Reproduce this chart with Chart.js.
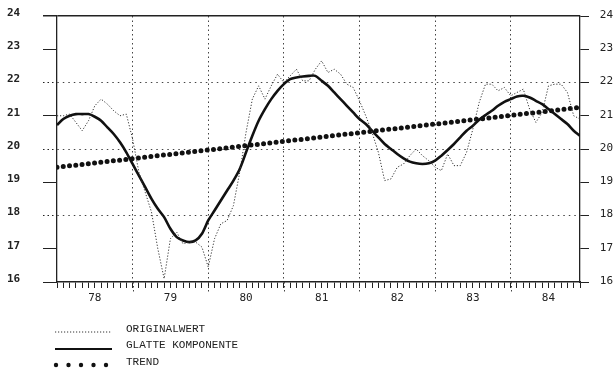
<!DOCTYPE html>
<html><head><meta charset="utf-8">
<script src="https://cdn.jsdelivr.net/npm/chart.js@4"></script>
<style>
html,body{margin:0;padding:0;background:#fff;}
#wrap{position:relative;width:614px;height:371px;overflow:hidden;background:#fff;}
#c{position:absolute;left:0;top:0;}
#samples{position:absolute;left:0;top:0;}
.row{position:absolute;left:126px;white-space:nowrap;line-height:12px;font-family:'Liberation Mono','DejaVu Sans Mono',monospace;font-size:11px;color:#222;}
</style></head><body>
<div id="wrap">
<canvas id="c" width="614" height="371"></canvas>
<svg id="samples" width="614" height="371">
  <line x1="55" y1="332" x2="112" y2="332" stroke="#333" stroke-width="1" stroke-dasharray="1.2 1.8"/>
  <line x1="55" y1="349" x2="112" y2="349" stroke="#111" stroke-width="2.2"/>
  <circle cx="56" cy="365" r="2.2" fill="#111"/><circle cx="68.5" cy="365" r="2.2" fill="#111"/><circle cx="81" cy="365" r="2.2" fill="#111"/><circle cx="93.5" cy="365" r="2.2" fill="#111"/><circle cx="106" cy="365" r="2.2" fill="#111"/>
</svg>
<div class="row" style="top:323px">ORIGINALWERT</div>
<div class="row" style="top:339px">GLATTE KOMPONENTE</div>
<div class="row" style="top:356px">TREND</div>
</div>
<script>
// Monthly values, Jan 1978 (index 0) to Dec 1984 (index 83)
const original = [
  21.0, 21.0, 21.05, 20.8, 20.55, 20.85, 21.3, 21.5, 21.35, 21.15, 21.0, 21.05,
  20.3, 19.3, 18.7, 18.1, 17.0, 16.1, 17.3, 17.5, 17.15, 17.2, 17.2, 17.05,
  16.45, 17.3, 17.75, 17.85, 18.3, 19.3, 20.5, 21.5, 21.9, 21.5, 21.9, 22.25,
  22.0, 22.2, 22.4, 22.05, 22.05, 22.4, 22.65, 22.3, 22.4, 22.25, 21.95, 21.85,
  21.45, 21.0, 20.5, 19.9, 19.05, 19.1, 19.45, 19.55, 19.8, 20.0, 19.8, 19.65,
  19.45, 19.35, 19.85, 19.5, 19.5, 19.9, 20.6, 21.4, 21.95, 21.95, 21.75, 21.85,
  21.6, 21.7, 21.8, 21.2, 20.8, 21.1, 21.9, 21.95, 21.95, 21.7, 21.0, 20.9
];
const smooth = [
  20.72, 20.9, 21.0, 21.05, 21.05, 21.05, 20.97, 20.85, 20.65, 20.45, 20.2, 19.9,
  19.55, 19.2, 18.85, 18.5, 18.2, 17.95, 17.6, 17.35, 17.25, 17.2, 17.25, 17.45,
  17.85, 18.15, 18.45, 18.75, 19.05, 19.4, 19.9, 20.4, 20.85, 21.2, 21.5, 21.75,
  21.95, 22.1, 22.15, 22.18, 22.2, 22.2, 22.05, 21.9, 21.7, 21.5, 21.3, 21.1,
  20.9, 20.75, 20.55, 20.35, 20.15, 20.0, 19.85, 19.72, 19.62, 19.57, 19.55, 19.57,
  19.65, 19.8, 19.97, 20.15, 20.35, 20.55, 20.7, 20.88, 21.02, 21.15, 21.3, 21.42,
  21.5, 21.58, 21.6, 21.55, 21.45, 21.35, 21.2, 21.05, 20.9, 20.75, 20.55, 20.4
];
const trendMonths = [0, 12, 24, 36, 48, 60, 72, 83];
const trendValues = [19.45, 19.71, 19.97, 20.23, 20.49, 20.75, 21.01, 21.25];
const yearLabels = ['78', '79', '80', '81', '82', '83', '84'];

const FONT = "'DejaVu Sans Mono','Liberation Mono',monospace";
const GRID = '#444';
const NONE = 'rgba(0,0,0,0)';
const isYearLine = v => v % 12 === 0 && v > 0 && v < 83;
const isEvenGrid = v => v % 2 === 0 && v > 16 && v < 24;

const yearTickExt = {
  id: 'yearTickExt',
  afterDraw(chart) {
    const xs = chart.scales.x, ctx = chart.ctx, b = chart.chartArea.bottom;
    ctx.save();
    ctx.strokeStyle = GRID; ctx.lineWidth = 1; ctx.setLineDash([1.5, 2.5]);
    for (let m = 12; m < 83; m += 12) {
      const px = Math.round(xs.getPixelForValue(m)) + 0.5;
      ctx.beginPath(); ctx.moveTo(px, b); ctx.lineTo(px, b + 11); ctx.stroke();
    }
    ctx.restore();
  }
};

new Chart(document.getElementById('c'), {
  type: 'line',
  data: {
    datasets: [
      { label: 'ORIGINALWERT', data: original.map((v, i) => ({x: i, y: v})),
        borderColor: '#333', borderWidth: 1, borderDash: [1.2, 1.8], pointRadius: 0, tension: 0 },
      { label: 'GLATTE KOMPONENTE', data: smooth.map((v, i) => ({x: i, y: v})),
        borderColor: '#111', borderWidth: 2.6, pointRadius: 0, tension: 0.3 },
      { label: 'TREND', data: trendValues.map((v, i) => ({x: trendMonths[i], y: v})),
        borderColor: '#111', borderWidth: 5, borderDash: [0, 6.3], borderCapStyle: 'round',
        pointRadius: 0, tension: 0 }
    ]
  },
  options: {
    responsive: false, animation: false, devicePixelRatio: 1,
    layout: { padding: { top: 16, left: 7, right: 1, bottom: 66 } },
    plugins: { legend: { display: false }, tooltip: { enabled: false } },
    scales: {
      x: {
        type: 'linear', min: 0, max: 83,
        afterFit(s) { s.height = 23; },
        ticks: {
          stepSize: 1, autoSkip: false, maxRotation: 0, padding: 4, color: '#222',
          font: { family: FONT, size: 11 },
          callback: v => (v % 12 === 6 ? yearLabels[(v - 6) / 12] : '')
        },
        grid: {
          color: c => (c.tick && isYearLine(c.tick.value) ? GRID : NONE),
          lineWidth: 1, tickLength: 6, tickColor: '#222', drawTicks: true
        },
        border: { display: true, color: '#222', width: 1.5, dash: [1.5, 3] }
      },
      y: {
        position: 'left', min: 16, max: 24,
        afterFit(s) { s.width = 50; },
        ticks: { stepSize: 1, padding: 0, crossAlign: 'far', color: '#222', labelOffset: -3,
          font: { family: FONT, size: 11, weight: 'bold' } },
        grid: {
          color: c => {
            if (!c.tick) return NONE;
            if (c.tick.value === 24) return '#222';
            return isEvenGrid(c.tick.value) ? GRID : NONE;
          },
          lineWidth: c => (c.tick && c.tick.value === 24 ? 1.5 : 1),
          tickLength: 14, tickColor: '#222',
          tickBorderDash: c => (c.tick && isEvenGrid(c.tick.value) ? [1.5, 3] : [])
        },
        border: { display: true, color: '#222', width: 1.3,
          dash: c => (c.tick && c.tick.value === 24 ? [] : [1.5, 4]) }
      },
      y2: {
        position: 'right', min: 16, max: 24,
        afterFit(s) { s.width = 33; },
        ticks: { stepSize: 1, padding: 0, crossAlign: 'far', color: '#222', labelOffset: -1,
          font: { family: FONT, size: 11 } },
        grid: { drawOnChartArea: false, tickLength: 9, tickColor: '#222' },
        border: { display: true, color: '#222', width: 1.3 }
      }
    }
  },
  plugins: [yearTickExt]
});
</script>
</body></html>
